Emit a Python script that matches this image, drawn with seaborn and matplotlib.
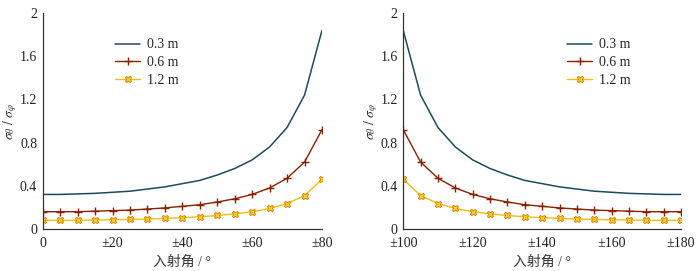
import matplotlib
matplotlib.use("Agg")
from matplotlib import pyplot as plt
import pandas as pd
import seaborn as sns

# incidence angles (deg), every 5 degrees
angles_left = [0, 5, 10, 15, 20, 25, 30, 35, 40, 45, 50, 55, 60, 65, 70, 75, 80]
angles_right = [100, 105, 110, 115, 120, 125, 130, 135, 140, 145, 150, 155, 160, 165, 170, 175, 180]

# sigma_theta / sigma_phi
r03_left = [0.32, 0.32, 0.325, 0.33, 0.34, 0.35, 0.37, 0.39, 0.42, 0.45, 0.50, 0.56, 0.64, 0.76, 0.94, 1.24, 1.84]
r06_left = [0.16, 0.16, 0.16, 0.165, 0.17, 0.175, 0.185, 0.195, 0.21, 0.225, 0.25, 0.28, 0.32, 0.38, 0.47, 0.62, 0.92]
r12_left = [0.08, 0.08, 0.08, 0.083, 0.085, 0.088, 0.092, 0.098, 0.105, 0.113, 0.125, 0.14, 0.16, 0.19, 0.235, 0.31, 0.46]
r03_right = [1.84, 1.24, 0.94, 0.76, 0.64, 0.56, 0.50, 0.45, 0.42, 0.39, 0.37, 0.35, 0.34, 0.33, 0.325, 0.32, 0.32]
r06_right = [0.92, 0.62, 0.47, 0.38, 0.32, 0.28, 0.25, 0.225, 0.21, 0.195, 0.185, 0.175, 0.17, 0.165, 0.16, 0.16, 0.16]
r12_right = [0.46, 0.31, 0.235, 0.19, 0.16, 0.14, 0.125, 0.113, 0.105, 0.098, 0.092, 0.088, 0.085, 0.083, 0.08, 0.08, 0.08]

labels = ["0.3 m", "0.6 m", "1.2 m"]
left_ticks = ["0", "±20", "±40", "±60", "±80"]
right_ticks = ["±100", "±120", "±140", "±160", "±180"]

sns.set_style("white")
plt.rcParams['font.family'] = ['Liberation Serif', 'Noto Sans CJK SC']
plt.rcParams['mathtext.fontset'] = 'stix'
plt.rcParams['font.size'] = 10

styles = [
    dict(color='#1d4a5e', lw=1.1),
    dict(color='#8b2000', lw=1.0, marker='+', markersize=6, mew=1.0, mec='#8b2000'),
    dict(color='#e8c010', lw=1.0, marker='X', markersize=5, mfc='#f2d020', mec='#e07000', mew=0.6),
]

fig = plt.figure(figsize=(7, 2.71), dpi=100)
ax1 = fig.add_axes([0.061, 0.155, 0.399, 0.797])
ax2 = fig.add_axes([0.576, 0.155, 0.397, 0.797])

panels = [
    (ax1, angles_left, [r03_left, r06_left, r12_left], left_ticks, (0, 80), (0.215, 0.94)),
    (ax2, angles_right, [r03_right, r06_right, r12_right], right_ticks, (100, 180), (0.546, 0.94)),
]

for ax, x, series, ticks, xlim, legpos in panels:
    for vals, lab, st in zip(series, labels, styles):
        df = pd.DataFrame({'x': x, 'y': vals})
        sns.lineplot(data=df, x='x', y='y', ax=ax, label=lab, **st)
    ax.set_xlim(*xlim)
    ax.set_ylim(0, 2)
    ax.set_xticks(range(xlim[0], xlim[1] + 1, 20))
    ax.set_xticklabels(ticks)
    ax.set_yticks([0, 0.4, 0.8, 1.2, 1.6, 2])
    ax.set_yticklabels(["0", "0.4", "0.8", "1.2", "1.6", "2"])
    ax.tick_params(direction='in', length=4, width=0.8, colors='#333333', labelcolor='#222222', labelsize=10)
    ax.tick_params(axis='x', pad=6)
    ax.tick_params(axis='y', pad=4)
    for side in ['top', 'right']:
        ax.spines[side].set_visible(False)
    for side in ['left', 'bottom']:
        ax.spines[side].set_color('#333333')
        ax.spines[side].set_linewidth(0.9)
    ax.set_xlabel("入射角 / °", fontsize=10, labelpad=4, color='#333333')
    ax.set_ylabel(r'$\sigma_\theta\ /\ \sigma_\varphi$', fontsize=10, color='#333333')
    ax.yaxis.set_label_coords(-0.085, 0.5)
    ax.legend(loc='upper left', bbox_to_anchor=legpos, frameon=False, fontsize=10,
              handlelength=1.8, labelspacing=0.35, handletextpad=0.5)

fig.savefig("out.png", dpi=100)
